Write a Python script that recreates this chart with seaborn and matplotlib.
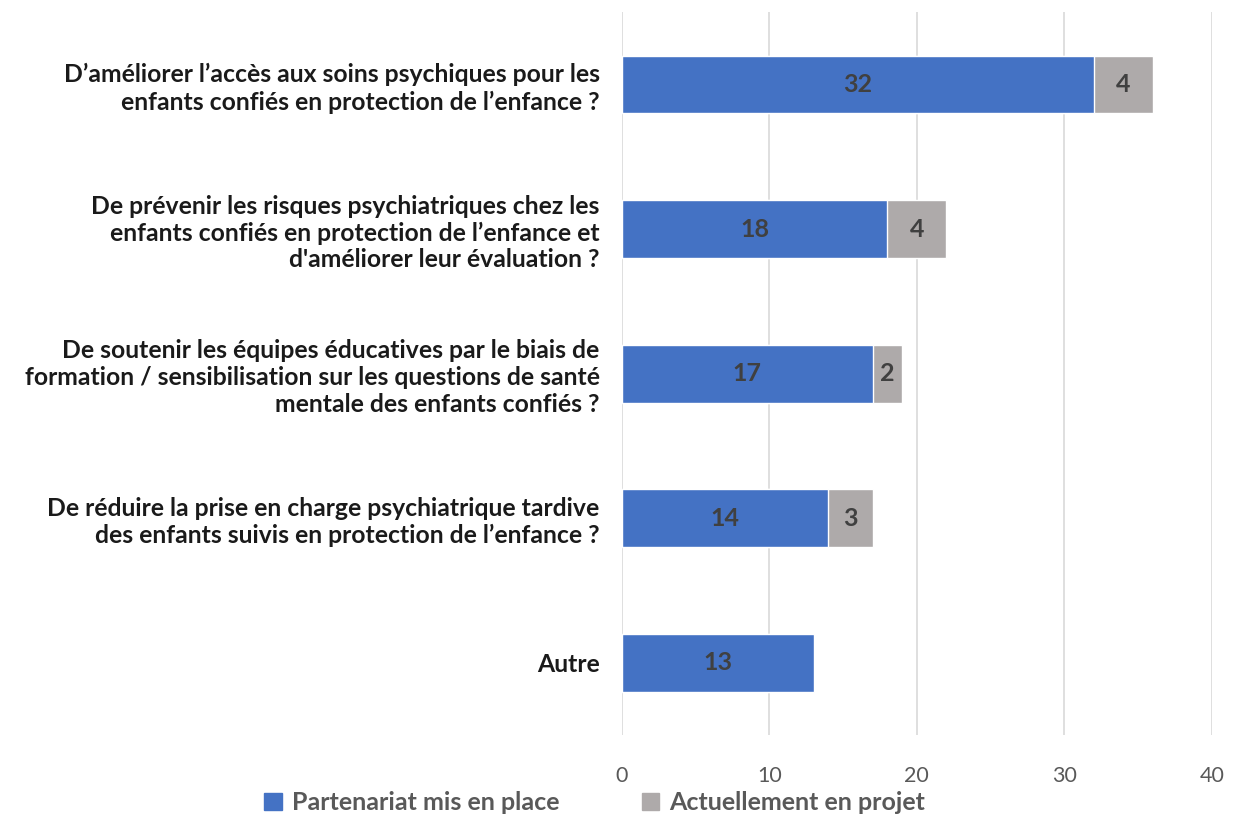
import matplotlib
matplotlib.use("Agg")
import matplotlib.pyplot as plt
import seaborn as sns
import pandas as pd
from matplotlib.patches import Patch

categories = [
    "D’améliorer l’accès aux soins psychiques pour les\nenfants confiés en protection de l’enfance ?",
    "De prévenir les risques psychiatriques chez les\nenfants confiés en protection de l’enfance et\nd'améliorer leur évaluation ?",
    "De soutenir les équipes éducatives par le biais de\nformation / sensibilisation sur les questions de santé\nmentale des enfants confiés ?",
    "De réduire la prise en charge psychiatrique tardive\ndes enfants suivis en protection de l’enfance ?",
    "Autre",
]
partenariat = [32, 18, 17, 14, 13]
projet = [4, 4, 2, 3, 0]
series_names = ["Partenariat mis en place", "Actuellement en projet"]

BLUE = "#4472C4"
GRAY = "#AEAAAA"

sns.set_theme(style="white")
plt.rcParams["font.family"] = ["Lato", "DejaVu Sans"]

df = pd.DataFrame({"cat": categories, "p": partenariat, "q": projet})
df["total"] = df["p"] + df["q"]

fig = plt.figure(figsize=(12.34, 8.14), dpi=100)
ax = fig.add_axes([0.504, 0.097, 0.478, 0.888])

sns.barplot(data=df, y="cat", x="total", color=GRAY, saturation=1, width=0.4,
            orient="h", ax=ax, zorder=2)
sns.barplot(data=df, y="cat", x="p", color=BLUE, saturation=1, width=0.4,
            orient="h", ax=ax, zorder=3)

gray_bars = ax.containers[0]
blue_bars = ax.containers[1]
ax.bar_label(blue_bars, labels=[str(v) for v in partenariat], label_type="center",
             fontsize=18, fontweight="bold", color="#404040")
for rect, p, q in zip(gray_bars, partenariat, projet):
    if q > 0:
        ax.text(p + q / 2, rect.get_y() + rect.get_height() / 2, str(q),
                ha="center", va="center", fontsize=18, fontweight="bold",
                color="#404040", zorder=4)

ax.set_xlim(0, 40)
ax.set_ylim(4.5, -0.5)
ax.set_xticks([0, 10, 20, 30, 40])
ax.xaxis.grid(True, color="#D9D9D9", linewidth=1.2, zorder=0)
ax.set_axisbelow(True)
for s in ax.spines.values():
    s.set_visible(False)
ax.set_xlabel("")
ax.set_ylabel("")
ax.tick_params(axis="x", labelsize=15.5, labelcolor="#595959", length=0, pad=22)
ax.tick_params(axis="y", length=0, pad=16)
for lbl in ax.get_yticklabels():
    lbl.set_fontweight("bold")
    lbl.set_fontsize(17.8)
    lbl.set_color("#1a1a1a")
    lbl.set_horizontalalignment("right")
    lbl.set_multialignment("right")
    lbl.set_linespacing(1.2)

handles = [Patch(color=BLUE), Patch(color=GRAY)]
fig.legend(handles, series_names, loc="center", bbox_to_anchor=(0.482, 0.014),
           ncol=2, frameon=False, handlelength=0.7, handleheight=0.7,
           columnspacing=3.3, handletextpad=0.4,
           prop={"size": 18, "weight": "bold"}, labelcolor="#595959")

fig.savefig("out.png", dpi=100)
